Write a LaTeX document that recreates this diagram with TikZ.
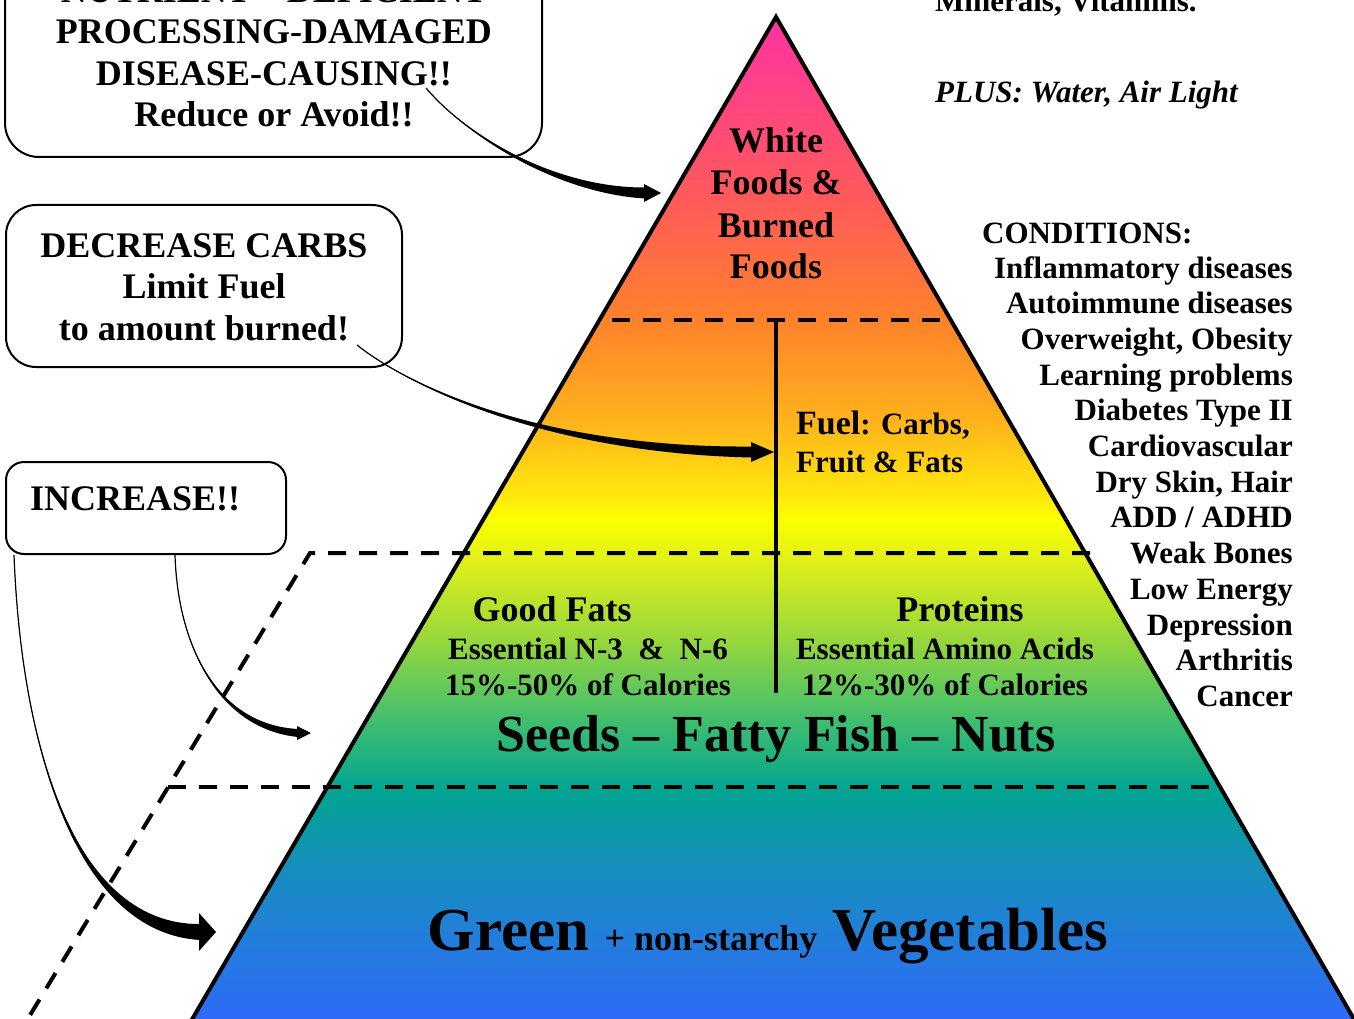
\documentclass[tikz,border=0pt]{standalone}
\usepackage{fontspec}
\setmainfont{Liberation Serif}
\usetikzlibrary{calc}
\definecolor{k0}{RGB}{255,51,160}
\definecolor{k1}{RGB}{255,68,130}
\definecolor{k2}{RGB}{255,90,90}
\definecolor{k3}{RGB}{255,130,42}
\definecolor{k4}{RGB}{255,178,28}
\definecolor{k5}{RGB}{255,236,10}
\definecolor{k6}{RGB}{250,255,0}
\definecolor{k7}{RGB}{225,240,25}
\definecolor{k8}{RGB}{150,215,60}
\definecolor{k9}{RGB}{65,190,110}
\definecolor{k10}{RGB}{0,165,145}
\definecolor{k11}{RGB}{20,145,185}
\definecolor{k12}{RGB}{35,125,220}
\definecolor{k13}{RGB}{50,100,255}
\pgfdeclareverticalshading{pyr}{100bp}{color(0bp)=(k13); color(25bp)=(k13); color(29.89bp)=(k12); color(33.80bp)=(k11); color(37.22bp)=(k10); color(40.64bp)=(k9); color(44.55bp)=(k8); color(48.46bp)=(k7); color(50.41bp)=(k6); color(51.39bp)=(k5); color(55.30bp)=(k4); color(60.19bp)=(k3); color(66.06bp)=(k2); color(70.94bp)=(k1); color(75bp)=(k0); color(100bp)=(k0)}
\newcommand\mytaper[7]{%
  \draw[line width=1.2] (#1) .. controls (#2) and (#3) .. (#4);
  \fill (#1) .. controls (#2) and (#3) .. ($(#4)+(0,-#5)$) -- ($(#4)+(0,#5)$) .. controls ($(#3)+(0,#5)$) and (#2) .. (#1);
  \fill ($(#4)+(-1,-#6)$) -- ($(#4)+(#7,0)$) -- ($(#4)+(-1,#6)$) -- cycle;
}
\tikzset{
  boxln/.style={draw, line width=2, rounded corners=#1},
  dashln/.style={line width=4, dash pattern=on 18pt off 13pt},
  big/.style={font=\fontsize{36}{42}\selectfont\bfseries, inner sep=0, anchor=base},
  mid/.style={font=\fontsize{31}{36}\selectfont\bfseries, inner sep=0, anchor=base},
  cond/.style={font=\fontsize{31}{36}\selectfont\bfseries, inner sep=0, anchor=base east},
}
\begin{document}
\begin{tikzpicture}[x=1pt,y=-1pt]
\path[use as bounding box, clip] (0,0) rectangle (1354,1019);
% pyramid
\shade[shading=pyr] (776,17) -- (180,1040) -- (1366,1040) -- cycle;
\draw[line width=4, line join=miter] (180,1040) -- (776,17) -- (1366,1040);
% dividers
\draw[dashln] (612,320) -- (942,320);
\draw[dashln] (1090,553) -- (310,553) -- (18,1035);
\draw[dashln] (168,787) -- (1222,787);
\draw[line width=4] (776,320) -- (776,693);
% boxes
\draw[boxln=34] (5,-60) rectangle (542,157);
\draw[boxln=30] (6,205) rectangle (402,367);
\draw[boxln=18] (6,462) rectangle (286,554);
% box texts
\node[big] (b1a) at (274,3) {NUTRIENT – DEFICIENT};
\node[big] (b1b) at (274,44) {PROCESSING-DAMAGED};
\node[big] (b1c) at (274,86) {DISEASE-CAUSING!!};
\node[big] (b1d) at (274,127) {Reduce or Avoid!!};
\node[big] (b2a) at (204,257) {DECREASE CARBS};
\node[big] (b2b) at (204,298) {Limit Fuel};
\node[big] (b2c) at (204,340) {to amount burned!};
\node[big, anchor=base west] (b3a) at (30,510) {INCREASE!!};
% top right
\node[mid, anchor=base west] (min) at (935,12) {Minerals, Vitamins.};
\node[mid, anchor=base west, font=\fontsize{31}{36}\selectfont\bfseries\itshape] (plus) at (935,103) {PLUS: Water, Air Light};
% conditions
\node[mid, anchor=base west] (condh) at (982,243) {CONDITIONS:};
\foreach \t [count=\i] in {Inflammatory diseases, Autoimmune diseases, {Overweight, Obesity}, Learning problems, Diabetes Type II, Cardiovascular, {Dry Skin, Hair}, ADD / ADHD, Weak Bones, Low Energy, Depression, Arthritis, Cancer}
  \node[cond] (c\i) at (1293,{278+35.7*(\i-1)}) {\t};
% pyramid texts
\node[big] (w1) at (776,153) {White};
\node[big] (w2) at (776,195) {Foods \&};
\node[big] (w3) at (776,237) {Burned};
\node[big] (w4) at (776,278) {Foods};
\node[mid, anchor=base west] (f1) at (796,434) {{\fontsize{34}{40}\selectfont Fuel}: Carbs,};
\node[mid, anchor=base west] (f2) at (796,472) {Fruit \& Fats};
\node[big] (gf) at (552,621) {Good Fats};
\node[mid] (gf2) at (588,659) {Essential N-3\ \ \&\ \ N-6};
\node[mid] (gf3) at (588,695) {15\%-50\% of Calories};
\node[big] (pr) at (960,621) {Proteins};
\node[mid] (pr2) at (945,659) {Essential Amino Acids};
\node[mid] (pr3) at (945,695) {12\%-30\% of Calories};
\node[inner sep=0, anchor=base, font=\fontsize{52}{60}\selectfont\bfseries] (seeds) at (776,751) {Seeds – Fatty Fish – Nuts};
\node[inner sep=0, anchor=base, font=\bfseries] (veg) at (768,950) {\fontsize{61}{70}\selectfont Green {\fontsize{36}{42}\selectfont + non-starchy} Vegetables};
% arrow anchors
\coordinate (s1) at (426,88);  \coordinate (p1) at (470,140); \coordinate (q1) at (560,188); \coordinate (e1) at (645,193);
\coordinate (s2) at (357,345); \coordinate (p2) at (420,395); \coordinate (q2) at (560,448); \coordinate (e2) at (752,452);
\coordinate (s3) at (175,555); \coordinate (p3) at (178,650); \coordinate (q3) at (220,725); \coordinate (e3) at (298,733);
\coordinate (s4) at (14,555);  \coordinate (p4) at (22,760);  \coordinate (q4) at (80,925);  \coordinate (e4) at (200,932);
\mytaper{s1}{p1}{q1}{e1}{5.5}{9}{16}
\mytaper{s2}{p2}{q2}{e2}{5.5}{10}{22}
\mytaper{s3}{p3}{q3}{e3}{4}{7}{13}
\mytaper{s4}{p4}{q4}{e4}{8}{19}{16}
\end{tikzpicture}
\end{document}
